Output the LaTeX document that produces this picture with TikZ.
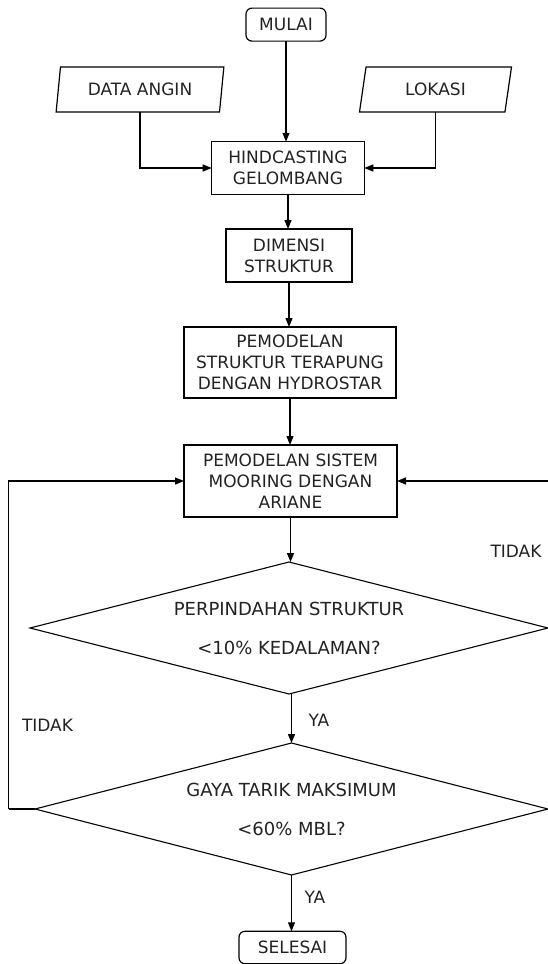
\documentclass[tikz,border=0pt]{standalone}
\usepackage{fontspec}
\setmainfont{DejaVu Sans}
\usetikzlibrary{arrows.meta,shapes.geometric}
\definecolor{txt}{HTML}{222222}
\begin{document}
\begin{tikzpicture}[x=1pt,y=-1pt,
  every node/.style={text=txt,inner sep=0pt,outer sep=0pt},
  boxtext/.style={font=\fontsize{17}{21}\selectfont,align=center},
  procbox/.style={boxtext,draw,line width=1.4pt,rectangle},
  termbox/.style={boxtext,draw,line width=1.2pt,rectangle,rounded corners=6pt},
  iobox/.style={boxtext,draw,line width=1.2pt,shape=trapezium,trapezium stretches=true,
     trapezium left angle=77.5,trapezium right angle=102.5},
  decbox/.style={draw,line width=1.1pt,shape=diamond,font=\fontsize{18}{39}\selectfont,align=center},
  lbl/.style={font=\fontsize{17}{20}\selectfont},
  conn/.style={line width=1.2pt,-{Triangle[length=9pt,width=7pt]}},
  plainline/.style={line width=1.2pt}]
\useasboundingbox (0,0) rectangle (548,964);

\node[termbox,minimum width=80,minimum height=33] (mulai) at (286,24.6) {MULAI};
\node[iobox,minimum width=168,minimum height=45] (data) at (140,89.5) {DATA ANGIN};
\node[iobox,minimum width=153,minimum height=45] (lok) at (435.5,89.5) {LOKASI};
\node[procbox,minimum width=152.6,minimum height=52.5] (hind) at (288,168) {HINDCASTING\\GELOMBANG};
\node[procbox,minimum width=126,minimum height=53] (dim) at (289,255.5) {DIMENSI\\STRUKTUR};
\node[procbox,minimum width=212,minimum height=71] (pem) at (290,362.5) {PEMODELAN\\STRUKTUR TERAPUNG\\DENGAN HYDROSTAR};
\node[procbox,minimum width=213,minimum height=72] (ari) at (290.5,481) {PEMODELAN SISTEM\\MOORING DENGAN\\ARIANE};
\node[decbox,minimum width=518,minimum height=132,aspect=3.92] (d1) at (289,628) {PERPINDAHAN STRUKTUR\\<10\% KEDALAMAN?};
\node[decbox,minimum width=513,minimum height=132,aspect=3.89] (d2) at (291.5,809) {GAYA TARIK MAKSIMUM\\<60\% MBL?};
\node[termbox,minimum width=107,minimum height=32.5] (sel) at (292.5,947.5) {SELESAI};

\node[lbl] (tidakr) at (516,551) {TIDAK};
\node[lbl] (tidakl) at (47.5,725) {TIDAK};
\node[lbl] (ya1) at (319,720) {YA};
\node[lbl] (ya2) at (315,897) {YA};

\coordinate (lft) at (8.5,809);
\coordinate (rgt) at (549.5,628);

\draw[conn] (mulai.south) -- (mulai.south |- hind.north);
\draw[conn] (data.south) |- (hind.west);
\draw[conn] (lok.south) |- (hind.east);
\draw[conn] (hind.south) -- (hind.south |- dim.north);
\draw[conn] (dim.south) -- (dim.south |- pem.north);
\draw[conn] (pem.south) -- (pem.south |- ari.north);
\draw[conn] (ari.south) -- (ari.south |- d1.north);
\draw[conn] (d2.north |- d1.south) -- (d2.north);
\draw[conn] (d2.south) -- (d2.south |- sel.north);
\draw[plainline] (d2.west) -- (lft);
\draw[conn] (lft) |- (ari.west);
\draw[plainline] (d1.east) -- (rgt);
\draw[conn] (rgt) |- (ari.east);
\end{tikzpicture}
\end{document}
